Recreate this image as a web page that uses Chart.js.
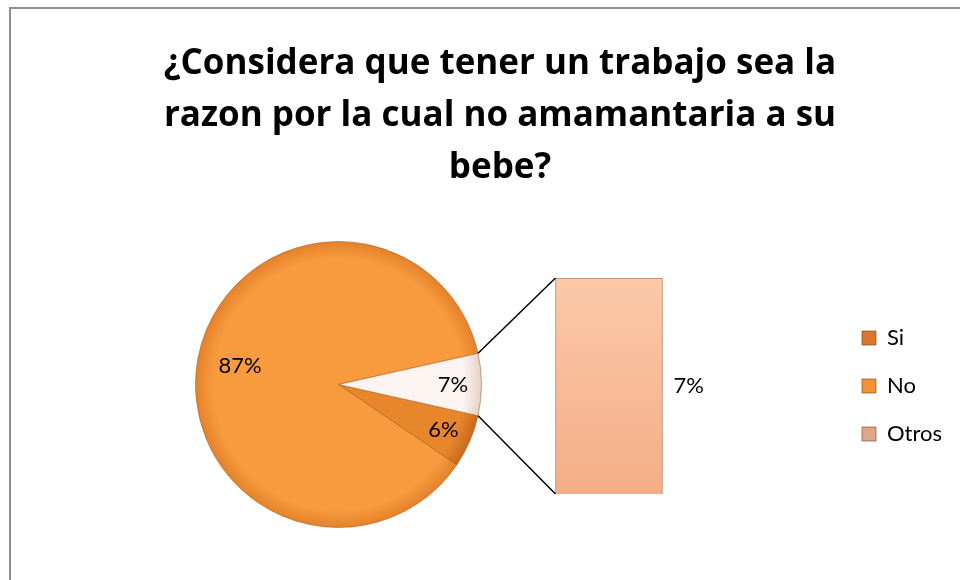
<!DOCTYPE html>
<html lang="es">
<head>
<meta charset="utf-8">
<title>¿Considera que tener un trabajo sea la razon por la cual no amamantaria a su bebe?</title>
<script src="https://cdn.jsdelivr.net/npm/chart.js@4.4.1/dist/chart.umd.min.js"></script>
<style>
  html, body { margin: 0; padding: 0; background: #fff; overflow: hidden; }
  .stage { position: relative; width: 960px; height: 580px; }
  .frame { position: absolute; left: 9px; top: 7px; width: 1000px; height: 600px; border: 2px solid #8e8e8e; }
  canvas { position: absolute; left: 0; top: 0; }
  #barChart { pointer-events: none; }
</style>
</head>
<body>
<div class="stage">
  <div class="frame"></div>
  <canvas id="pieChart" width="960" height="580"></canvas>
  <canvas id="barChart" width="960" height="580"></canvas>
</div>
<script>
const titleLines = ['¿Considera que tener un trabajo sea la', 'razon por la cual no amamantaria a su', 'bebe?'];
const categories = ['Si', 'No', 'Otros'];
const pieValues = [6, 87, 7];      // the last slice is the "other" group shown in the bar
const barCategories = ['Otros'];
const barValues = [7];

const pieColors = [['#E8862C', '#C9691C'], ['#F89A3E', '#E4822A'], ['#FBF4F1', '#E6D2C8']];
const legendColors = ['#D9782A', '#F29237', '#E0A68A'];

const pieTotal = pieValues.reduce((a, b) => a + b, 0);
const otherShare = pieValues[pieValues.length - 1] / pieTotal;

// Percent labels inside the pie
const pieLabels = {
    id: 'pieLabels',
    afterDatasetsDraw(chart) {
        const ctx = chart.ctx;
        const meta = chart.getDatasetMeta(0);
        ctx.save();
        ctx.font = '22px Lato';
        ctx.fillStyle = '#000';
        ctx.textAlign = 'center';
        ctx.textBaseline = 'middle';
        meta.data.forEach((arc, i) => {
            const mid = (arc.startAngle + arc.endAngle) / 2;
            const r = arc.outerRadius * (pieValues[i] / pieTotal > 0.5 ? 0.7 : 0.8);
            ctx.fillText(pieValues[i] + '%', arc.x + Math.cos(mid) * r, arc.y + Math.sin(mid) * r);
        });
        ctx.restore();
    }
};

const pieChart = new Chart(document.getElementById('pieChart'), {
    type: 'pie',
    data: {
        labels: categories,
        datasets: [{
            data: pieValues,
            backgroundColor(c) {
                const arc = c.element;
                const pair = pieColors[c.dataIndex];
                if (!arc || !arc.outerRadius) return pair[0];
                // light centre, slightly darker rim, like the bevelled original
                const g = c.chart.ctx.createRadialGradient(arc.x, arc.y, 0, arc.x, arc.y, arc.outerRadius);
                g.addColorStop(0, pair[0]);
                g.addColorStop(0.88, pair[0]);
                g.addColorStop(1, pair[1]);
                return g;
            },
            borderColor: 'rgba(160, 90, 30, 0.55)',
            borderWidth: 1,
            hoverOffset: 0
        }]
    },
    options: {
        responsive: false,
        animation: false,
        rotation: 90 + otherShare * 360 / 2,
        layout: { padding: { left: 195, right: 478, top: 241, bottom: 52 } },
        plugins: {
            legend: { display: false },
            title: { display: false }
        }
    },
    plugins: [pieLabels]
});
pieChart.update();

// Connector lines from the pie to the bar, and the bar's label
const barExtras = {
    id: 'barExtras',
    afterDatasetsDraw(chart) {
        const ctx = chart.ctx;
        const bar = chart.getDatasetMeta(0).data[0];
        const pieMeta = pieChart.getDatasetMeta(0);
        const arc = pieMeta.data[pieMeta.data.length - 1];
        const left = bar.x - bar.width / 2;
        ctx.save();
        ctx.strokeStyle = '#000';
        ctx.lineWidth = 1.5;
        ctx.beginPath();
        ctx.moveTo(arc.x + Math.cos(arc.startAngle) * arc.outerRadius, arc.y + Math.sin(arc.startAngle) * arc.outerRadius);
        ctx.lineTo(left, bar.y);
        ctx.moveTo(arc.x + Math.cos(arc.endAngle) * arc.outerRadius, arc.y + Math.sin(arc.endAngle) * arc.outerRadius);
        ctx.lineTo(left, bar.base);
        ctx.stroke();

        ctx.font = '22px Lato';
        ctx.fillStyle = '#000';
        ctx.textAlign = 'left';
        ctx.textBaseline = 'middle';
        ctx.fillText(barValues[0] + '%', bar.x + bar.width / 2 + 11, (bar.y + bar.base) / 2);
        ctx.restore();
    }
};

new Chart(document.getElementById('barChart'), {
    type: 'bar',
    data: {
        labels: barCategories,
        datasets: [{
            data: barValues,
            backgroundColor(c) {
                const area = c.chart.chartArea;
                if (!area) return '#F8BA95';
                const g = c.chart.ctx.createLinearGradient(0, area.top, 0, area.bottom);
                g.addColorStop(0, '#FCC9A8');
                g.addColorStop(1, '#F3AE87');
                return g;
            },
            borderColor: '#B8846A',
            borderWidth: 1,
            barThickness: 107
        }]
    },
    options: {
        responsive: false,
        animation: false,
        events: [],
        layout: { padding: { left: 48, right: 8, top: 0, bottom: 86 } },
        scales: {
            x: { display: false },
            y: {
                min: 0,
                max: barValues.reduce((a, b) => a + b, 0),
                ticks: { display: false },
                grid: { display: false },
                border: { display: false },
                afterFit(scale) { scale.width = 334; }
            }
        },
        plugins: {
            title: {
                display: true,
                text: titleLines,
                color: '#000',
                font: { family: "'Open Sans'", size: 35, weight: 'bold', lineHeight: '52px' },
                padding: { top: 38, bottom: 84 }
            },
            legend: {
                position: 'right',
                fullSize: false,
                onClick: null,
                labels: {
                    color: '#000',
                    font: { family: 'Lato', size: 22 },
                    boxWidth: 14,
                    boxHeight: 14,
                    padding: 26,
                    generateLabels() {
                        return categories.map((name, i) => ({
                            text: name,
                            fillStyle: legendColors[i],
                            strokeStyle: 'rgba(120, 60, 20, 0.6)',
                            lineWidth: 1,
                            hidden: false,
                            index: i
                        }));
                    }
                }
            },
            tooltip: { enabled: false }
        }
    },
    plugins: [barExtras]
});
</script>
</body>
</html>
